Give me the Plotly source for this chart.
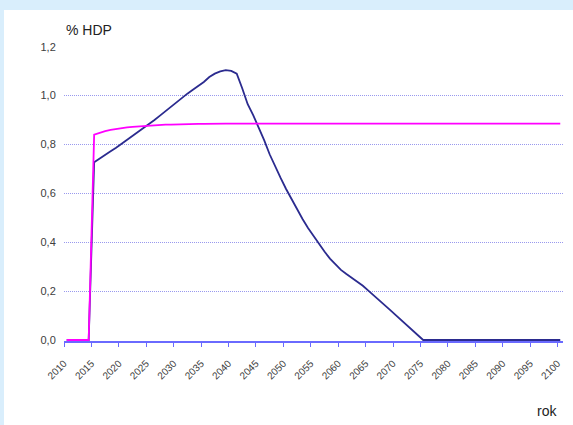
import plotly.graph_objects as go

# roky 2010..2100
years = list(range(2010, 2101))

# vydaje (% HDP) - tmave modra krivka
navy_vals = [
    0.0, 0.0, 0.0, 0.0, 0.0,                                             # 2010-2014
    0.727, 0.741, 0.756, 0.772, 0.787, 0.803, 0.818, 0.834, 0.849, 0.865,  # 2015-2024
    0.883, 0.900, 0.918, 0.936, 0.955, 0.975, 0.992, 1.008, 1.024, 1.039,  # 2025-2034
    1.056, 1.076, 1.090, 1.099, 1.104, 1.101, 1.090, 1.030, 0.965, 0.920,  # 2035-2044
    0.872, 0.818, 0.760, 0.710, 0.663, 0.618, 0.575, 0.533, 0.495, 0.458,  # 2045-2054
    0.425, 0.393, 0.362, 0.333, 0.308, 0.287, 0.270, 0.255, 0.240, 0.222,  # 2055-2064
    0.202, 0.181, 0.161, 0.142, 0.122, 0.102, 0.082, 0.062, 0.042, 0.021,  # 2065-2074
    0.0, 0.0, 0.0, 0.0, 0.0, 0.0, 0.0, 0.0, 0.0, 0.0,                    # 2075-2084
    0.0, 0.0, 0.0, 0.0, 0.0, 0.0, 0.0, 0.0, 0.0, 0.0,                    # 2085-2094
    0.0, 0.0, 0.0, 0.0, 0.0, 0.0,                                        # 2095-2100
]

# vydaje (% HDP) - fialova krivka
magenta_vals = [
    0.0, 0.0, 0.0, 0.0, 0.0,                                             # 2010-2014
    0.840, 0.848, 0.855, 0.860, 0.864, 0.867, 0.870, 0.872, 0.874, 0.876,  # 2015-2024
    0.878, 0.879, 0.880, 0.881, 0.881, 0.882, 0.882, 0.883, 0.883, 0.884,  # 2025-2034
    0.884, 0.885, 0.885, 0.885, 0.885, 0.885, 0.885, 0.885, 0.885, 0.885,  # 2035-2044
    0.885, 0.885, 0.885, 0.885, 0.885, 0.885, 0.885, 0.885, 0.885, 0.885,  # 2045-2054
    0.885, 0.885, 0.885, 0.885, 0.885, 0.885, 0.885, 0.885, 0.885, 0.885,  # 2055-2064
    0.885, 0.885, 0.885, 0.885, 0.885, 0.885, 0.885, 0.885, 0.885, 0.885,  # 2065-2074
    0.885, 0.885, 0.885, 0.885, 0.885, 0.885, 0.885, 0.885, 0.885, 0.885,  # 2075-2084
    0.885, 0.885, 0.885, 0.885, 0.885, 0.885, 0.885, 0.885, 0.885, 0.885,  # 2085-2094
    0.885, 0.885, 0.885, 0.885, 0.885, 0.885,                            # 2095-2100
]

tick_years = list(range(2010, 2101, 5))
y_ticks = [0.0, 0.2, 0.4, 0.6, 0.8, 1.0, 1.2]

text_col = "#404040"
axis_col = "#6a6aff"
grid_col = "#9999ee"
font_fam = "Liberation Sans, Arial"

fig = go.Figure()

fig.add_trace(go.Scatter(x=years, y=navy_vals, mode="lines",
                         line=dict(color="#2b2b8f", width=1.8),
                         showlegend=False))
fig.add_trace(go.Scatter(x=years, y=magenta_vals, mode="lines",
                         line=dict(color="#ff00ff", width=1.8),
                         showlegend=False))

# kategorie jsou vystredene mezi znackami osy (jako v Excelu)
fig.update_xaxes(range=[min(years) - 0.5, max(years) + 0.5],
                 tickvals=[y - 0.5 for y in tick_years],
                 ticktext=[str(y) for y in tick_years],
                 tickangle=-45,
                 tickfont=dict(family=font_fam, size=10, color=text_col),
                 ticklabelstandoff=7,
                 showgrid=False, zeroline=False,
                 showline=True, linecolor=axis_col, linewidth=1.5,
                 ticks="outside", ticklen=4, tickcolor=axis_col, tickwidth=1)

fig.update_yaxes(range=[-0.004, 1.203],
                 tickvals=y_ticks,
                 tickformat=".1f",
                 tickfont=dict(family=font_fam, size=11, color=text_col),
                 showgrid=True, gridcolor=grid_col, gridwidth=1, griddash="1px,1px",
                 zeroline=False, showline=False,
                 ticks="outside", ticklen=5, tickcolor="rgba(0,0,0,0)")

# svetle modry okraj nahore a vlevo
band_col = "#d9eefc"
shapes = [
    dict(type="rect", xref="paper", yref="paper", x0=-0.2, x1=1.2, y0=1.122, y1=1.3,
         fillcolor=band_col, line_width=0, layer="below"),
    dict(type="rect", xref="paper", yref="paper", x0=-0.2, x1=-0.1202, y0=-0.5, y1=1.3,
         fillcolor=band_col, line_width=0, layer="below"),
]

annotations = [
    dict(text="% HDP", xref="paper", yref="paper", x=0.0, y=1.053,
         xanchor="left", yanchor="middle", showarrow=False,
         font=dict(family=font_fam, size=14, color="#222222")),
    dict(text="rok", xref="paper", yref="paper", x=0.991, y=-0.236,
         xanchor="right", yanchor="middle", showarrow=False,
         font=dict(family=font_fam, size=14, color="#222222")),
]

fig.update_layout(width=573, height=425,
                  margin=dict(l=64, r=10, t=46, b=84),
                  paper_bgcolor="white", plot_bgcolor="white",
                  separators=", ",
                  shapes=shapes, annotations=annotations,
                  showlegend=False)

# bez okraju stranky, aby graf sedel presne do okna
fig.write_html("out.html", config={"displayModeBar": False},
               post_script="document.body.style.margin='0';document.body.style.overflow='hidden';")
